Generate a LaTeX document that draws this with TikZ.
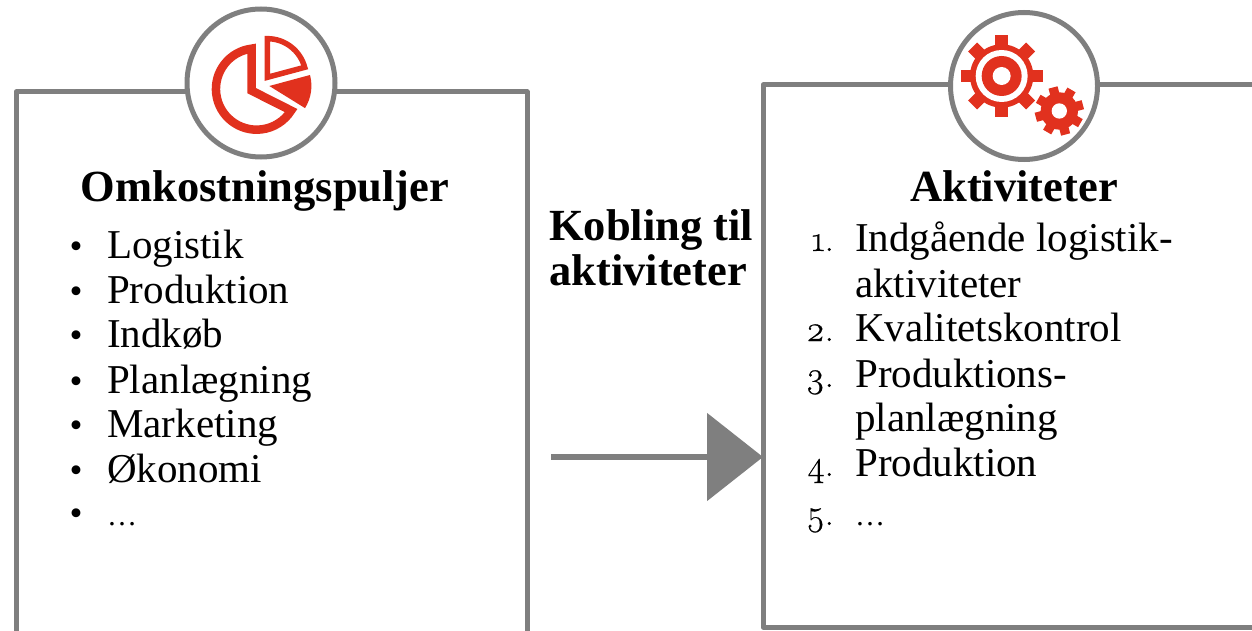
\documentclass[tikz,border=0pt]{standalone}
\usepackage{fontspec}
\setmainfont{Liberation Serif}
\newfontfamily\numfont[Numbers=OldStyle,FakeBold=0.5]{Latin Modern Roman}
\usetikzlibrary{arrows.meta}
\definecolor{boxgray}{HTML}{7F7F7F}
\definecolor{iconred}{HTML}{E1311E}
\tikzset{
  panel/.style={draw=boxgray,line width=5pt,fill=white,rectangle,inner sep=0pt,outer sep=0pt,line join=round},
  badge/.style={draw=boxgray,line width=5pt,fill=white,circle,inner sep=0pt},
  heading/.style={anchor=base,inner sep=0pt,font=\fontsize{44.5}{50}\selectfont\bfseries},
  item/.style={anchor=base west,inner sep=0pt,font=\fontsize{41}{48}\selectfont},
  numitem/.style={anchor=base east,inner sep=0pt,font=\fontsize{36}{48}\selectfont\numfont},
  dotitem/.style={anchor=base west,inner sep=0pt,font=\fontsize{30}{48}\selectfont},
  bulletitem/.style={anchor=base,inner sep=0pt,font=\fontsize{37}{48}\selectfont},
  flowarrow/.style={draw=boxgray,line width=5.5pt,-{Triangle[length=56pt,width=87pt]}}
}
\begin{document}
\begin{tikzpicture}[x=1pt,y=-1pt]
\useasboundingbox (0,0) rectangle (1252,631);
% panels
\node[panel,minimum width=511pt,minimum height=640pt,anchor=north west] (costbox) at (16,92) {};
\node[panel,minimum width=600pt,minimum height=542pt,anchor=north west] (actbox) at (763,85) {};
% badges
\node[badge,minimum size=148pt] (piebadge) at (261,83) {};
\node[badge,minimum size=147pt] (gearbadge) at (1024,86) {};
% pie icon
\begin{scope}[shift={(170,0)},x=0.3333pt,y=-0.3333pt]
  \draw[iconred,line width=8.5pt,line join=miter] (245,272) -- (245,146) arc[start angle=263,end angle=32,radius=122] -- cycle;
  \draw[iconred,line width=5.5pt,line join=miter] (292,232) -- (292,116) arc[start angle=270,end angle=345,radius=116] -- cycle;
  \fill[iconred] (298,258) -- (420,225) arc[start angle=-15,end angle=32,radius=126] -- cycle;
\end{scope}
% gear icon
\begin{scope}[shift={(930,0)},x=0.3333pt,y=-0.3333pt]
  \begin{scope}[shift={(215,228)}]
    \foreach \a in {0,45,...,315}{
      \fill[iconred,rotate=\a] (-19,-123) rectangle (19,0);
    }
    \fill[iconred] (0,0) circle[radius=95];
    \fill[white] (0,0) circle[radius=78];
    \fill[iconred] (0,0) circle[radius=60];
    \fill[white] (0,0) circle[radius=27];
  \end{scope}
  \begin{scope}[shift={(388,333)}]
    \foreach \a in {15,60,...,330}{
      \fill[iconred,rotate=\a] (-14,-73) rectangle (14,0);
    }
    \fill[iconred] (0,0) circle[radius=56];
    \fill[white] (0,0) circle[radius=23];
  \end{scope}
\end{scope}
% headings
\node[heading] (costhead) at (265,201) {Omkostningspuljer};
\node[heading] (acthead) at (1014,201) {Aktiviteter};
\node[heading,anchor=base west] (link1) at (549,240) {Kobling til};
\node[heading,anchor=base west] (link2) at (549,285) {aktiviteter};
% left list
\foreach \n/\y/\t in {a/258/Logistik,b/303/Produktion,c/347/Indkøb,d/393/Planlægning,e/437/Marketing,f/482/Økonomi}{
  \node[item] (cost\n) at (107,\y) {\t};
  \node[bulletitem] (bullet\n) at (76,\y) {•};
}
\node[dotitem] (costg) at (107,525) {…};
\node[bulletitem] (bulletg) at (76,525) {•};
% right list
\node[numitem] (n1) at (834,251) {1.};
\node[item] (act1) at (855,251) {Indgående logistik-};
\node[item] (act1b) at (855,297) {aktiviteter};
\node[numitem] (n2) at (834,341) {2.};
\node[item] (act2) at (855,341) {Kvalitetskontrol};
\node[numitem] (n3) at (834,387) {3.};
\node[item] (act3) at (855,387) {Produktions-};
\node[item] (act3b) at (855,431) {planlægning};
\node[numitem] (n4) at (834,476) {4.};
\node[item] (act4) at (855,476) {Produktion};
\node[numitem] (n5) at (834,525) {5.};
\node[dotitem] (act5) at (855,525) {…};
% arrow
\coordinate (arrowstart) at (551,457);
\draw[flowarrow] (arrowstart) -- (arrowstart -| actbox.west);
\end{tikzpicture}
\end{document}
